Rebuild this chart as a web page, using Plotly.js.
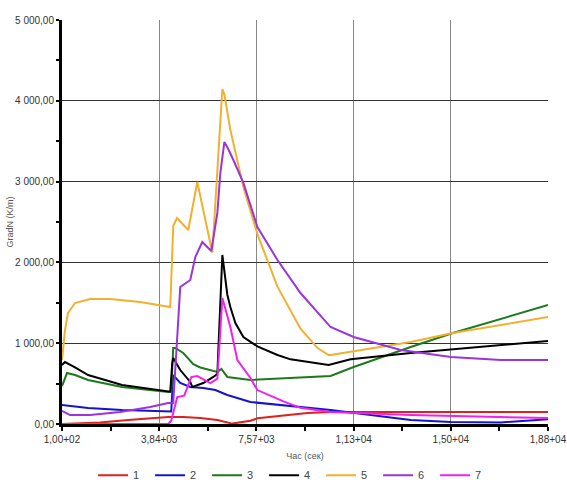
<!DOCTYPE html>
<html>
<head>
<meta charset="utf-8">
<script src="https://cdn.plot.ly/plotly-3.0.1.min.js"></script>
<style>html,body{margin:0;padding:0;background:#fff;}#chart{width:567px;height:480px;}</style>
</head>
<body>
<div id="chart"></div>
<script>
const seriesNames = ["1", "2", "3", "4", "5", "6", "7"];
const seriesColors = ["#e0201e", "#1414cc", "#1c7a1c", "#000000", "#f2b030", "#9a34dc", "#ee22ee"];

const x1 = [100, 1565, 2645, 4187, 4766, 5421, 6077, 6655, 7349, 7619, 9547, 10434, 18800];
const y1 = [0, 20, 50, 87, 87, 74, 50, 5, 40, 70, 136, 149, 149];

const x2 = [100, 1103, 2414, 4187, 4303, 4380, 4650, 5036, 5537, 6000, 6462, 7349, 10434, 13519, 15061, 16990, 18800];
const y2 = [235, 198, 173, 149, 155, 606, 507, 458, 446, 420, 359, 272, 173, 50, 25, 20, 60];

const x3 = [100, 293, 601, 1103, 2414, 3686, 4187, 4303, 4380, 4457, 4766, 5151, 5421, 6077, 6231, 6462, 7349, 10434, 11321, 13519, 15138, 18800];
const y3 = [470, 631, 606, 545, 458, 410, 396, 400, 941, 941, 879, 740, 700, 644, 681, 582, 545, 594, 705, 953, 1126, 1473];

const x4 = [100, 216, 601, 1103, 2414, 3686, 4187, 4265, 4342, 4380, 4650, 5036, 5113, 5537, 5923, 6077, 6270, 6385, 6462, 6578, 6771, 7079, 7619, 8390, 8892, 10357, 11205, 13519, 18800];
const y4 = [730, 767, 700, 606, 483, 421, 396, 400, 755, 817, 668, 520, 458, 507, 582, 620, 2092, 1750, 1600, 1448, 1250, 1077, 960, 854, 800, 730, 800, 878, 1027];

const x5 = [100, 216, 331, 601, 1180, 1951, 3108, 4187, 4265, 4380, 4522, 4959, 5306, 5884, 6270, 6347, 6578, 7079, 7619, 8390, 9277, 9933, 10357, 10434, 11321, 13519, 15138, 18800];
const y5 = [792, 1163, 1374, 1497, 1547, 1547, 1510, 1460, 1448, 2450, 2549, 2401, 2995, 2120, 4146, 4080, 3640, 2933, 2350, 1700, 1180, 940, 854, 854, 903, 1015, 1126, 1324];

const x6 = [100, 408, 1180, 2336, 3493, 4187, 4380, 4457, 4534, 4650, 5036, 5229, 5498, 5845, 6077, 6192, 6347, 6501, 6694, 7079, 7619, 8390, 9277, 10434, 11321, 13133, 15061, 16990, 18800];
const y6 = [161, 111, 111, 149, 210, 260, 260, 700, 1200, 1695, 1782, 2067, 2252, 2141, 2611, 3106, 3490, 3400, 3267, 2983, 2438, 2030, 1621, 1200, 1077, 916, 829, 792, 792];

const x7 = [100, 4187, 4303, 4496, 4534, 4804, 5074, 5306, 5807, 6000, 6077, 6270, 6578, 6848, 7349, 7619, 8622, 9277, 10434, 13519, 18800];
const y7 = [0, 0, 40, 310, 334, 350, 580, 594, 507, 545, 560, 1560, 1200, 790, 569, 420, 280, 200, 149, 111, 74];

const xTickVals = [100, 3840, 7580, 11320, 15060, 18800];
const xTickText = ["1,00+02", "3,84+03", "7,57+03", "1,13+04", "1,50+04", "1,88+04"];
const yTickVals = [0, 1000, 2000, 3000, 4000, 5000];
const yTickText = ["0,00", "1 000,00", "2 000,00", "3 000,00", "4 000,00", "5 000,00"];

const xs = [x1, x2, x3, x4, x5, x6, x7];
const ys = [y1, y2, y3, y4, y5, y6, y7];

const traces = xs.map((x, i) => ({
  x: x, y: ys[i], type: "scatter", mode: "lines", name: seriesNames[i],
  line: {color: seriesColors[i], width: 2}
}));

const font = "Liberation Sans Narrow, Liberation Sans, Arial, sans-serif";
const layout = {
  width: 567, height: 480,
  margin: {l: 62, r: 19, t: 20, b: 56},
  paper_bgcolor: "#fff", plot_bgcolor: "#fff",
  font: {family: font, size: 10, color: "#333"},
  showlegend: true,
  legend: {orientation: "h", xref: "container", yref: "container", x: 0.516, xanchor: "center", y: 0.01, yanchor: "middle",
    font: {size: 11, color: "#444"}, itemwidth: 30, entrywidth: 12, entrywidthmode: "pixels", traceorder: "normal"},
  xaxis: {
    range: [100, 18800], tickmode: "array", tickvals: xTickVals, ticktext: xTickText, automargin: false,
    showgrid: true, gridcolor: "#888", gridwidth: 1, zeroline: false,
    showline: true, linecolor: "#000", linewidth: 3,
    ticks: "outside", ticklen: 4, tickwidth: 2, tickcolor: "#000",
    minor: {dtick: 1870, tick0: 100, ticks: "outside", ticklen: 4, tickwidth: 2, tickcolor: "#000", showgrid: false},
    tickfont: {size: 10, color: "#333"},
    title: {text: "Час (сек)", font: {size: 9, color: "#555"}, standoff: 13}
  },
  yaxis: {
    range: [0, 5000], tickmode: "array", tickvals: yTickVals, ticktext: yTickText, automargin: false,
    showgrid: true, gridcolor: "#333", gridwidth: 1, zeroline: false,
    showline: true, linecolor: "#000", linewidth: 3,
    ticks: "outside", ticklen: 3, tickwidth: 2, tickcolor: "#000",
    minor: {dtick: 500, tick0: 0, ticks: "outside", ticklen: 3, tickwidth: 2, tickcolor: "#000", showgrid: false},
    tickfont: {size: 10, color: "#333"},
    title: {text: "GradN (K/m)", font: {size: 9, color: "#555"}, standoff: 0}
  }
};

Plotly.newPlot("chart", traces, layout, {displayModeBar: false, staticPlot: true});
</script>
</body>
</html>
